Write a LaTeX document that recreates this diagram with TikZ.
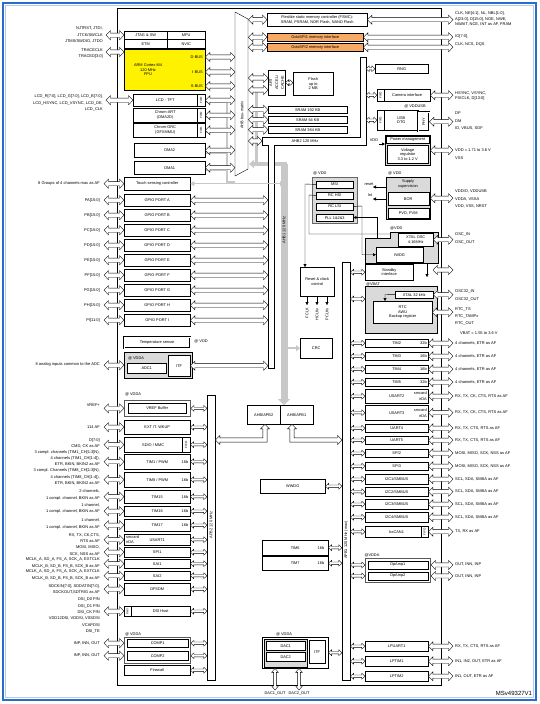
\documentclass[tikz,border=0pt]{standalone}
\usepackage{fontspec}
\setmainfont{Liberation Sans}
\usepackage{graphicx}
\usetikzlibrary{arrows.meta,calc}
\newcommand\fsm{\fontsize{3.9}{4.5}\selectfont}
\newcommand\fti{\fontsize{3}{3.5}\selectfont}
\newcommand\flab{\fontsize{4}{6.3}\selectfont}
\newcommand\Bx[7][]{\node[bx,#1, anchor=north west, minimum width={(#5-#3)*1pt}, minimum height={(#6-#4)*1pt}] (#2) at (#3,#4) {#7};}
% hollow block arrows: horizontal (left point, right point) and vertical (top point, bottom point)
\newcommand\gA[5]{\draw[line width=0.35pt, fill=white] let \p1=#4, \p2=#5 in (\x1,\y1) -- (\x1+#3pt,\y1+#2pt) -- (\x1+#3pt,\y1+#1pt) -- (\x2-#3pt,\y1+#1pt) -- (\x2-#3pt,\y1+#2pt) -- (\x2,\y1) -- (\x2-#3pt,\y1-#2pt) -- (\x2-#3pt,\y1-#1pt) -- (\x1+#3pt,\y1-#1pt) -- (\x1+#3pt,\y1-#2pt) -- cycle;}
\newcommand\gV[5]{\draw[line width=0.35pt, fill=white] let \p1=#4, \p2=#5 in (\x1,\y1) -- (\x1+#2pt,\y1-#3pt) -- (\x1+#1pt,\y1-#3pt) -- (\x1+#1pt,\y2+#3pt) -- (\x1+#2pt,\y2+#3pt) -- (\x1,\y2) -- (\x1-#2pt,\y2+#3pt) -- (\x1-#1pt,\y2+#3pt) -- (\x1-#1pt,\y1-#3pt) -- (\x1-#2pt,\y1-#3pt) -- cycle;}
\newcommand\dA[2]{\gA{2.1}{4.6}{4.5}{#1}{#2}}
\newcommand\sA[2]{\gA{1.2}{2.9}{3.2}{#1}{#2}}
\newcommand\vA[2]{\gV{1.4}{3.4}{4}{#1}{#2}}
\definecolor{frameblue}{RGB}{40,110,200}
\definecolor{octo}{RGB}{247,170,100}
\definecolor{busgray}{RGB}{200,200,200}
\definecolor{regray}{RGB}{218,218,218}
\tikzset{
  bx/.style={draw, line width=0.4pt, fill=white, inner sep=0pt, align=center, font=\fsm},
  lbl/.style={inner sep=0pt, font=\flab},
  sl/.style={inner sep=0pt, font=\fsm},
  tri/.style={line width=0.4pt, -{Triangle[length=3pt,width=3pt]}},
}
\begin{document}
\begin{tikzpicture}[x=1pt,y=-1pt]
\useasboundingbox (0,0) rectangle (540,704);
\fill[white] (0,0) rectangle (540,704);
\draw[frameblue, line width=2pt] (3,3) rectangle (536,700);
\draw[frameblue!35, line width=0.6pt] (5.5,5.5) rectangle (533.5,697.5);
\draw[line width=0.5pt] (117,8) rectangle (441,685);

% ---------- gray DMA / AHB1 paths (drawn first)
\draw[busgray, line width=2pt] (205,102) -- (227,102) (205,117) -- (227,117) (205,132) -- (227,132) (205,153) -- (227,153) (205,170) -- (227,170) (227,100) -- (227,182) -- (235,182);
\draw[busgray, line width=3pt] (256,88) -- (256,163);
\draw[busgray, line width=4pt, -{Triangle[length=5pt,width=8pt]}] (287,164) -- (249,164);

% ---------- CPU area
\Bx{jtag}{124}{31}{167}{39}{JTAG \& SW}
\Bx{etm}{124}{39}{167}{48}{ETM}
\Bx{mpu}{167}{31}{205}{39}{MPU}
\Bx{nvic}{167}{39}{205}{48}{NVIC}
\Bx[fill=yellow]{cpu}{124}{49}{205}{90}{}
\node[sl, align=center] (cput) at (148,70) {ARM Cortex-M4\\120 MHz\\FPU};
\node[sl, anchor=east] (dbus) at (203,57) {D-BUS};
\node[sl, anchor=east] (ibus) at (203,72) {I-BUS};
\node[sl, anchor=east] (sbus) at (203,86) {S-BUS};

\node[lbl, anchor=east, align=right] (ljtag) at (103,35) {NJTRST, JTDI,\\JTCK/SWCLK\\JTMS/SWDIO, JTDO};
\node[lbl, anchor=east, align=right] (ltrace) at (103,53.5) {TRACECLK\\TRACED[3:0]};
\node[lbl, anchor=east, align=right] (llcd) at (103,103) {LCD\_R[7:0], LCD\_G[7:0], LCD\_B[7:0],\\LCD\_HSYNC, LCD\_VSYNC, LCD\_DE,\\LCD\_CLK};
\dA{($(jtag.west -| ljtag.east)+(3,0)$)}{(jtag.west)}
\dA{($(ltrace.east)+(3,-1.5)$)}{($(ltrace.east -| cpu.west)+(0,-1.5)$)}

\Bx{lcd}{133}{94}{197}{106}{LCD - TFT}
\Bx{lcdf}{197}{94}{205}{106}{\rotatebox{90}{\fti FIFO}}
\Bx{dart}{133}{108}{197}{122}{Chrom-ART\\(DMA2D)}
\Bx{dartf}{197}{108}{205}{122}{\rotatebox{90}{\fti FIFO}}
\Bx{grc}{133}{123}{197}{137}{Chrom-GRC\\(GFXMMU)}
\Bx{grcf}{197}{123}{205}{137}{\rotatebox{90}{\fti FIFO}}
\Bx{dmab}{134}{143}{205}{157}{DMA2}
\Bx{dmaa}{134}{161}{205}{174}{DMA1}
\dA{($(lcd.west -| llcd.east)+(3,0)$)}{(lcd.west)}

% ---------- bus matrix
\node[anchor=north west, minimum width=13pt, minimum height=164pt, inner sep=0pt] (bm) at (235,12) {};
\draw[line width=0.4pt, fill=white] (235,12) -- (248,19) -- (248,169) -- (235,176) -- cycle;
\node[sl, rotate=90] (bmt) at (242,115) {AHB bus-matrix};
\foreach \q in {dbus,ibus,sbus}{\dA{(\q.east -| cpu.east)}{(\q.east -| bm.west)}}
\foreach \q in {lcdf,dartf,grcf,dmab,dmaa}{\dA{(\q.east)}{(\q.east -| bm.west)}}

% ---------- memories
\Bx{fsmc}{267}{13}{367}{26}{Flexible static memory controller (FSMC):\\SRAM, PSRAM, NOR Flash, NAND Flash}
\Bx[fill=octo]{ospa}{267}{33}{363}{41}{OctoSPI1 memory interface}
\Bx[fill=octo]{ospb}{267}{43}{363}{51}{OctoSPI2 memory interface}
\node[lbl, anchor=west, align=left, font={\fontsize{4}{5.6}\selectfont}] (rfsmc) at (455,19) {CLK, NE[4:1], NL, NBL[1:0],\\A[23:0], D[15:0], NOE, NWE,\\NWAIT, NCE, INT as AF, FRAM};
\node[lbl, anchor=west, align=left, font={\fontsize{4}{8}\selectfont}] (rocto) at (455,40) {IO[7:0],\\CLK, NCS, DQS};
\foreach \q in {fsmc,ospa,ospb}{\dA{(\q.west -| bm.east)}{(\q.west)}}
\dA{(fsmc.east)}{($(fsmc.east -| rfsmc.west)+(-2,0)$)}
\dA{(ospa.east)}{($(ospa.east -| rocto.west)+(-2,0)$)}
\dA{(ospb.east)}{($(ospb.east -| rocto.west)+(-2,0)$)}

\Bx{art}{268}{70}{285}{95}{\rotatebox{90}{\shortstack{ART\\ACCEL/\\CACHE}}}
\Bx{flash}{293}{72}{333}{95}{Flash\\up to\\2 MB}
\sA{(art.east)}{(art.east -| flash.west)}
\dA{($(art.north west -| bm.east)+(0,8)$)}{($(art.north west)+(0,8)$)}
\dA{($(art.north west -| bm.east)+(0,20)$)}{($(art.north west)+(0,20)$)}
\Bx{srama}{268}{106}{347}{113}{SRAM 192 KB}
\Bx{sramb}{268}{116}{347}{123}{SRAM 64 KB}
\Bx{sramc}{268}{126}{347}{133}{SRAM 384 KB}
\foreach \q in {srama,sramb,sramc}{\dA{(\q.west -| bm.east)}{(\q.west)}}

% ---------- AHB2 band
\draw[line width=0.4pt, fill=white] (262,137) -- (360,137) -- (360,57) -- (366,57) -- (366,145) -- (274,145) -- (274,368) -- (268,368) -- (268,145) -- (262,145) -- cycle;
\coordinate (ahbL) at (268,0);
\coordinate (ahbR) at (366,0);
\coordinate (ahbE) at (262,141);
\node[sl] (ahbtwot) at (305,141) {AHB2 120 MHz};
\dA{(ahbE -| bm.east)}{(ahbE)}

\Bx{rng}{375}{64}{428}{73}{RNG}
\Bx{camf}{377}{89}{384}{101}{\rotatebox{90}{\fti FIFO}}
\Bx{cam}{384}{89}{430}{101}{Camera interface}
\Bx{usbf}{377}{110}{384}{130}{\rotatebox{90}{\fti FIFO}}
\Bx{usb}{384}{110}{418}{130}{USB\\OTG}
\Bx[double, double distance=0.8pt]{phy}{418}{112}{429}{131}{\rotatebox{90}{PHY}}
\node[sl] (vddusb) at (415,106) {@ VDDUSB};
\sA{(rng.west -| ahbR)}{(rng.west)}
\sA{(camf.west -| ahbR)}{(camf.west)}
\sA{(usbf.west -| ahbR)}{(usbf.west)}
\node[lbl, anchor=west, align=left, font={\fontsize{4}{5.6}\selectfont}] (rcam) at (455,96) {HSYNC, VSYNC,\\PIXCLK, D[13:0]};
\node[lbl, anchor=west, align=left, font={\fontsize{4}{7.5}\selectfont}] (rusb) at (455,121) {DP\\DM\\ID, VBUS, SOF};
\dA{(cam.east)}{($(cam.east -| rcam.west)+(-2,0)$)}
\dA{(phy.east)}{($(phy.east -| rusb.west)+(-2,0)$)}

% ---------- power
\Bx[fill=regray]{pwr}{385}{135}{430}{165}{}
\Bx{pwrt}{386}{136}{429}{143}{Power management}
\Bx{vreg}{387}{145}{428}{163}{Voltage\\regulator\\3.3 to 1.2 V}
\node[sl] (vddin) at (374,140) {VDD};
\draw[tri, line width=0.8pt] ($(pwr.north west)+(-6,9)$) -- ($(pwr.north west)+(0,9)$);
\node[lbl, anchor=west, align=left, font={\fontsize{4}{8}\selectfont}] (rpwr) at (455,154) {VDD = 1.71 to 3.6 V\\VSS};
\dA{(pwr.east)}{($(pwr.east -| rpwr.west)+(-2,0)$)}

\node[sl, anchor=west] (atvdda) at (388,173.5) {@ VDD};
\Bx[fill=regray]{sup}{386}{177}{430}{219}{}
\node[sl, align=center] (supt) at (408,184) {Supply\\supervision};
\Bx{bor}{387.5}{192}{428.5}{205}{BOR}
\Bx{pvd}{387.5}{208}{428.5}{217.5}{PVD, PVM}
\node[sl] (rstt) at (369,184) {reset};
\node[sl] (intt) at (370,195) {Int};
\draw[tri] ($(sup.north west)+(0,10)$) -- ($(sup.north west)+(-13,10)$);
\draw[tri] ($(sup.north west)+(0,22)$) -- ($(sup.north west)+(-13,22)$);
\node[lbl, anchor=west, align=left, font={\fontsize{4}{7.5}\selectfont}] (rsup) at (455,199) {VDDIO, VDDUSB\\VDDA, VSSA\\VDD, VSS, NRST};
\dA{(sup.east)}{($(sup.east -| rsup.west)+(-2,0)$)}

% ---------- clocks
\node[sl, anchor=west] (atvddk) at (313,173.5) {@ VDD};
\Bx[draw=gray!80!black, line width=0.9pt, fill=regray]{clk}{312}{177}{357}{223}{}
\Bx{msi}{316}{181}{353}{187.5}{MSI}
\Bx{hsi}{316}{192}{353}{198.5}{RC HSI}
\Bx{lsi}{316}{203}{353}{209.5}{RC LSI}
\Bx{pll}{316}{214}{353}{221}{PLL 1\&2\&3}
\Bx{rcc}{300}{267}{334}{296}{Reset \& clock\\control}
\coordinate (ck) at (305,184);
\draw[tri] (msi.west) -- (ck) -- (ck |- rcc.north);
\coordinate (hk) at (309,195);
\coordinate (hv) at (390,234);
\draw[line width=0.4pt] (hsi.west) -- (hk) -- (hk |- hv) -- (hv);
\foreach \xx/\t/\nm in {307/FCLK/fc, 317/HCLKx/hc, 327/PCLKx/pc}{
  \coordinate (\nm) at (\xx,305);
  \draw[tri] (rcc.south -| \nm) -- (\nm);
  \node[sl, rotate=90, anchor=east] (\nm t) at (\xx,308) {\t};
}
\Bx{crc}{300}{338}{332}{358}{CRC}

\node[sl, anchor=west] (atvddb) at (390,228) {@VDD};
\draw[line width=0.4pt, fill=regray] (365,238) -- (390,238) -- (390,232) -- (438,232) -- (438,263) -- (365,263) -- cycle;
\coordinate (vddreg) at (438,232);
\Bx{xtal}{398}{233}{433}{246}{XTAL OSC\\4-16MHz}
\Bx{iwdg}{376}{247}{423}{262}{IWDG}
\Bx{stby}{365}{264}{413}{280}{Standby\\interface}
\coordinate (lt) at (362,206);
\draw[tri] (lsi.east) -- (lt) -- (lt |- iwdg.west) -- (iwdg.west);
\coordinate (pk) at (377,238);
\coordinate (pj) at (377,217.5);
\draw[tri] (pk) -- (pj) -- (pj -| pll.east);
\coordinate (sba) at (427,264);
\coordinate (sbb) at (427,277);
\draw[tri] (sba) -- (sbb);

\node[sl] (atvbat) at (373,284) {@VBAT};
\Bx[fill=regray]{vbat}{365}{286}{437}{333}{}
\Bx{xtalb}{395}{291}{433}{298}{XTAL 32 kHz}
\Bx{rtc}{373}{301}{432}{323}{RTC\\AWU\\Backup register}
\coordinate (xa) at (385,294.5);
\draw[tri] (xtalb.west) -- (xa) -- (xa |- rtc.north);

\node[lbl, anchor=west, align=left, font={\fontsize{4}{8}\selectfont}] (rosc) at (455,238) {OSC\_IN\\OSC\_OUT};
\node[lbl, anchor=west, align=left, font={\fontsize{4}{8}\selectfont}] (rosct) at (455,295) {OSC32\_IN\\OSC32\_OUT};
\node[lbl, anchor=west, align=left, font={\fontsize{4}{7}\selectfont}] (rrtc) at (455,316) {RTC\_TS\\RTC\_TAMPx\\RTC\_OUT};
\node[lbl, anchor=west] (rvbat) at (460,333) {VBAT = 1.55 to 3.6 V};
\dA{(xtal.east)}{($(xtal.east -| rosc.west)+(-2,0)$)}
\coordinate (sbr) at (433,270);
\dA{(sbr)}{($(sbr -| rosc.west)+(-2,0)$)}
\dA{(xtalb.east)}{($(xtalb.east -| rosct.west)+(-2,0)$)}
\dA{(rtc.east)}{($(rtc.east -| rrtc.west)+(-2,0)$)}

% ---------- APB1 bus and peripherals
\node[draw, line width=0.4pt, fill=white, anchor=north west, minimum width=8pt, minimum height=418pt, inner sep=0pt] (apbone) at (342,262) {};
\node[sl, rotate=90] (apbonet) at (346,540) {APB1 120 MHz (max)};
\sA{(stby.west -| apbone.east)}{(stby.west)}
\sA{($(vbat.north west -| apbone.east)+(0,13)$)}{($(vbat.north west)+(0,13)$)}

\foreach \nm/\ya/\yb/\tx/\bt/\lb in {
 tima/339/347/TIM2/32b/{4 channels, ETR as AF},
 timb/352/360/TIM3/16b/{4 channels, ETR as AF},
 timc/365/373/TIM4/16b/{4 channels, ETR as AF},
 timd/378/386/TIM5/32b/{4 channels, ETR as AF},
 usb/389/403/USART2/{\shortstack[r]{smcard\\irDA}}/{RX, TX, CK, CTS, RTS as AF},
 usc/405/420/USART3/{\shortstack[r]{smcard\\irDA}}/{RX, TX, CK, CTS, RTS as AF},
 uad/424/432/UART4/{}/{RX, TX, CTS, RTS as AF},
 uae/436/444/UART5/{}/{RX, TX, CTS, RTS as AF},
 spb/449/457/SPI2/{}/{MOSI, MISO, SCK, NSS as AF},
 spc/462/470/SPI3/{}/{MOSI, MISO, SCK, NSS as AF},
 ica/474/484/{I2C1/SMBUS}/{}/{SCL, SDA, SMBA as AF},
 icb/487/496/{I2C2/SMBUS}/{}/{SCL, SDA, SMBA as AF},
 icc/499/509/{I2C3/SMBUS}/{}/{SCL, SDA, SMBA as AF},
 icd/512/522/{I2C4/SMBUS}/{}/{SCL, SDA, SMBA as AF},
 can/526/537/bxCAN1/{}/{TX, RX as AF},
 lpu/641/651/LPUART1/{}/{RX, TX, CTS, RTS as AF},
 lpa/656/666/LPTIM1/{}/{IN1, IN2, OUT, ETR as AF},
 lpb/671/681/LPTIM2/{}/{IN1, OUT, ETR as AF}}{
  \Bx{p\nm}{365}{\ya}{428}{\yb}{\tx}
  \node[sl, anchor=east, align=right] (p\nm b) at ($(p\nm.east)+(-1.5,0)$) {\bt};
  \node[lbl, anchor=west] (r\nm) at (455,{(\ya+\yb)/2}) {\lb};
  \dA{(p\nm.east)}{($(p\nm.east -| r\nm.west)+(-2,0)$)}
  \sA{(p\nm.west -| apbone.east)}{(p\nm.west)}
}
\Bx{canf}{421}{526}{428}{537}{\rotatebox{90}{\fti FIFO}}

\node[sl] (atvddo) at (372,555) {@VDDA};
\Bx[draw=gray!70!black, line width=1pt]{opreg}{365}{558}{430}{582}{}
\Bx{opa}{367.5}{560.5}{427.5}{569}{OpAmp1}
\Bx{opb}{367.5}{572}{427.5}{579.5}{OpAmp2}
\node[lbl, anchor=west] (ropa) at (455,564.5) {OUT, INN, INP};
\node[lbl, anchor=west] (ropb) at (455,576) {OUT, INN, INP};
\dA{(opa.east -| opreg.east)}{($(opa.east -| ropa.west)+(-2,0)$)}
\dA{(opb.east -| opreg.east)}{($(opb.east -| ropb.west)+(-2,0)$)}
\sA{(opa.west -| apbone.east)}{(opa.west -| opreg.west)}
\sA{(opb.west -| apbone.east)}{(opb.west -| opreg.west)}

% ---------- GPIO
\Bx{touch}{124}{177}{190}{190}{Touch sensing controller}
\node[lbl, anchor=east] (ltouch) at (100,183.5) {8 Groups of 4 channels max as AF};
\dA{($(touch.west -| ltouch.east)+(4,0)$)}{(touch.west)}
\foreach \pp/\yy/\nb in {A/194/15,B/209/15,C/224/15,D/239/15,E/254/15,F/269/15,G/284/15,H/299/15,I/314/11}{
  \Bx{gp\pp}{124}{\yy}{190}{\yy+12}{GPIO PORT \pp}
  \node[lbl, anchor=east] (lp\pp) at (100,\yy+6) {P\pp[\nb:0]};
  \dA{($(gp\pp.west -| lp\pp.east)+(4,0)$)}{(gp\pp.west)}
  \dA{(gp\pp.east)}{(gp\pp.east -| ahbL)}
}
\Bx[double, double distance=0.8pt]{temp}{124}{337}{190}{348}{Temperature sensor}
\node[sl] (atvddt) at (201,341) {@ VDD};

\Bx[fill=regray]{adcreg}{124}{352}{192}{378}{}
\node[sl] (atvddadc) at (136,358) {@ VDDA};
\Bx{adc}{127}{363}{166}{373}{ADC1}
\Bx{itf}{168}{355}{190}{376}{ITF}
\node[lbl, anchor=east] (ladc) at (100,364) {8 analog inputs common to the ADC};
\dA{($(adcreg.west -| ladc.east)+(4,0)$)}{(adcreg.west)}
\dA{(itf.east)}{(itf.east -| ahbL)}

% ---------- APB2 and peripherals
\node[draw, line width=0.4pt, fill=white, anchor=north west, minimum width=8pt, minimum height=285pt, inner sep=0pt] (apbtwo) at (207,395) {};
\node[sl, rotate=90] (apbtwot) at (211,525) {APB2 120 MHz};

\node[sl] (atvddv) at (133,394) {@ VDDA};
\Bx[draw=gray!70!black, line width=0.8pt]{vrefo}{124}{400}{190}{416}{}
\Bx{vref}{128}{403}{186}{413}{VREF Buffer}
\node[lbl, anchor=east] (lvref) at (100,405) {VREF+};
\Bx{exti}{124}{420}{190}{434}{EXT IT. WKUP}
\node[lbl, anchor=east] (lexti) at (100,427) {114 AF};
\Bx{sdio}{124}{437}{182}{452}{SDIO / MMC}
\Bx{sdiof}{182}{437}{190}{452}{\rotatebox{90}{\fti FIFO}}
\node[lbl, anchor=east, align=right] (lsdio) at (100,443) {D[7:0]\\CMD, CK as AF};
\Bx{tima}{124}{454}{190}{469}{TIM1 / PWM}
\node[lbl, anchor=east, align=right] (ltima) at (100,458.5) {3 compl. channels (TIM1\_CH[1:3]N),\\4 channels (TIM1\_CH[1:4]),\\ETR, BKIN, BKIN2 as AF};
\Bx{timh}{124}{472}{190}{487}{TIM8 / PWM}
\node[lbl, anchor=east, align=right] (ltimh) at (100,477) {3 compl. Channels (TIM8\_CH[1:3]N),\\4 channels (TIM8\_CH[1:4]),\\ETR, BKIN, BKIN2 as AF};
\Bx{timo}{124}{490}{190}{503}{TIM15}
\node[lbl, anchor=east, align=right] (ltimo) at (100,495) {2 channels,\\1 compl. channel, BKIN as AF};
\Bx{timp}{124}{506}{190}{516}{TIM16}
\node[lbl, anchor=east, align=right] (ltimp) at (100,508.5) {1 channel,\\1 compl. channel, BKIN as AF};
\Bx{timq}{124}{519}{190}{531}{TIM17}
\node[lbl, anchor=east, align=right] (ltimq) at (100,524) {1 channel,\\1 compl. channel, BKIN as AF};
\foreach \q in {tima,timh,timo,timp,timq}{\node[sl, anchor=east] (\q b) at ($(\q.east)+(-2,0)$) {16b};}
\Bx{usa}{124}{534}{190}{545}{USART1}
\node[sl, anchor=west, align=left] (usat) at ($(usa.west)+(2,0)$) {smcard\\irDA};
\node[lbl, anchor=east, align=right] (lusa) at (100,538) {RX, TX, CK,CTS,\\RTS as AF};
\Bx{spa}{124}{547}{190}{557}{SPI1}
\node[lbl, anchor=east, align=right] (lspa) at (100,551) {MOSI, MISO,\\SCK, NSS as AF};
\Bx{saa}{124}{559}{190}{568}{SAI1}
\node[lbl, anchor=east, align=right] (lsaa) at (100,563) {MCLK\_A, SD\_A, FS\_A, SCK\_A, EXTCLK\\MCLK\_B, SD\_B, FS\_B, SCK\_B as AF};
\Bx{sab}{124}{571}{190}{580}{SAI2}
\node[lbl, anchor=east, align=right] (lsab) at (100,575) {MCLK\_A, SD\_A, FS\_A, SCK\_A, EXTCLK\\MCLK\_B, SD\_B, FS\_B, SCK\_B as AF};
\Bx{dfs}{124}{583}{190}{595}{DFSDM}
\node[lbl, anchor=east, align=right] (ldfs) at (100,589) {SDCKIN[7:0], SDDATIN[7:0],\\SDCKOUT,SDTRIG as AF};
\Bx{dsip}{124}{606}{131}{616}{\rotatebox{90}{\fti PHY}}
\Bx{dsi}{131}{606}{190}{616}{DSI Host}
\node[lbl, anchor=east, align=right] (ldsi) at (100,615.5) {DSI\_D0 P/N\\DSI\_D1 P/N\\DSI\_CK P/N\\VDD12DSI, VDDSI, VSSDSI\\VCAPDSI\\DSI\_TE};
\node[sl] (atvddcp) at (133,634) {@ VDDA};
\Bx[draw=gray!70!black, line width=0.8pt]{compreg}{124}{637}{190}{663}{}
\Bx{cpa}{127}{639}{188}{647}{COMP1}
\Bx{cpb}{127}{651}{188}{660}{COMP2}
\node[lbl, anchor=east] (lcpa) at (100,643) {INP, INN, OUT};
\node[lbl, anchor=east] (lcpb) at (100,655.5) {INP, INN, OUT};
\Bx{fw}{124}{665}{190}{675}{Firewall}

\dA{($(vrefo.west -| lvref.east)+(4,0)$)}{(vrefo.west)}
\foreach \q in {exti,sdio,tima,timh,timo,timp,timq,usa,spa,saa,sab,dfs}{
  \dA{($(\q.west -| l\q.east)+(4,0)$)}{(\q.west)}}
\dA{($(dsip.west -| ldsi.east)+(4,0)$)}{(dsip.west)}
\dA{($(cpa.west -| lcpa.east)+(4,0)$)}{(cpa.west -| compreg.west)}
\dA{($(cpb.west -| lcpb.east)+(4,0)$)}{(cpb.west -| compreg.west)}
\foreach \q in {vrefo,exti,sdiof,tima,timh,timo,timp,timq,usa,spa,saa,sab,dfs,dsi,fw}{
  \sA{(\q.east)}{(\q.east -| apbtwo.west)}}
\sA{(cpa.east -| compreg.east)}{(cpa.east -| apbtwo.west)}
\sA{(cpb.east -| compreg.east)}{(cpb.east -| apbtwo.west)}

% ---------- bridges and AHB1
\Bx{brtwo}{247}{405}{280}{424}{AHB/APB2}
\Bx{brone}{280}{405}{313}{424}{AHB/APB1}
\coordinate (gtop) at (284,164);
\draw[busgray, line width=7pt, -{Triangle[length=6pt,width=12pt]}] (gtop) -- (gtop |- brone.north);
\node[sl, rotate=90] (ahbonet) at (284,230) {AHB1 120 MHz};
\draw[busgray, line width=1.5pt, {Triangle[length=4pt,width=5pt]}-{Triangle[length=4pt,width=5pt]}] (touch.east) -- (touch.east -| gtop);
\draw[busgray, line width=2.5pt, -{Triangle[length=4pt,width=6pt]}] (crc.west -| gtop) -- (crc.west);
\coordinate (bta) at (265,440);
\coordinate (btb) at (292,440);
\draw[line width=0.35pt, fill=white] let \p1=(bta |- brtwo.south), \p2=(bta -| apbtwo.east) in
  (\x1,\y1) -- (\x1+4.6pt,\y1-4.5pt) -- (\x1+2.1pt,\y1-4.5pt) -- (\x1+2.1pt,\y2-2.1pt) -- (\x2+4.5pt,\y2-2.1pt) -- (\x2+4.5pt,\y2-4.6pt) -- (\x2,\y2) -- (\x2+4.5pt,\y2+4.6pt) -- (\x2+4.5pt,\y2+2.1pt) -- (\x1-2.1pt,\y2+2.1pt) -- (\x1-2.1pt,\y1-4.5pt) -- (\x1-4.6pt,\y1-4.5pt) -- cycle;
\draw[line width=0.35pt, fill=white] let \p1=(btb |- brone.south), \p2=(btb -| apbone.west) in
  (\x1,\y1) -- (\x1-4.6pt,\y1-4.5pt) -- (\x1-2.1pt,\y1-4.5pt) -- (\x1-2.1pt,\y2-2.1pt) -- (\x2-4.5pt,\y2-2.1pt) -- (\x2-4.5pt,\y2-4.6pt) -- (\x2,\y2) -- (\x2-4.5pt,\y2+4.6pt) -- (\x2-4.5pt,\y2+2.1pt) -- (\x1+2.1pt,\y2+2.1pt) -- (\x1+2.1pt,\y1-4.5pt) -- (\x1+4.6pt,\y1-4.5pt) -- cycle;

\Bx{wwdg}{260}{479}{325}{493}{WWDG}
\sA{(wwdg.east)}{(wwdg.east -| apbone.west)}
\Bx{tims}{262}{540}{328}{555}{TIM6}
\Bx{timt}{262}{556}{328}{570}{TIM7}
\foreach \q in {tims,timt}{
  \node[sl, anchor=east] (\q b) at ($(\q.east)+(-4,0)$) {16b};
  \sA{(\q.east)}{(\q.east -| apbone.west)}}

\node[sl] (atvdddac) at (284,634) {@ VDDA};
\Bx{dacreg}{262}{637}{328}{668}{}
\Bx[fill=regray]{dacin}{263.5}{638.5}{306.5}{666.5}{}
\Bx{daca}{266}{641}{305}{650}{DAC1}
\Bx{dacb}{266}{652}{305}{661}{DAC2}
\Bx{ditf}{309}{640}{325}{663}{ITF}
\sA{(dacreg.east)}{(dacreg.east -| apbone.west)}
\coordinate (doa) at (275,690);
\coordinate (dob) at (299,690);
\vA{(doa |- dacreg.south)}{(doa)}
\vA{(dob |- dacreg.south)}{(dob)}
\node[sl, anchor=north] (doat) at (275,692) {DAC1\_OUT};
\node[sl, anchor=north] (dobt) at (299,692) {DAC2\_OUT};

\node[inner sep=0pt, font={\fontsize{6}{7}\selectfont}] (ref) at (514,693) {MSv49327V1};
\end{tikzpicture}
\end{document}
